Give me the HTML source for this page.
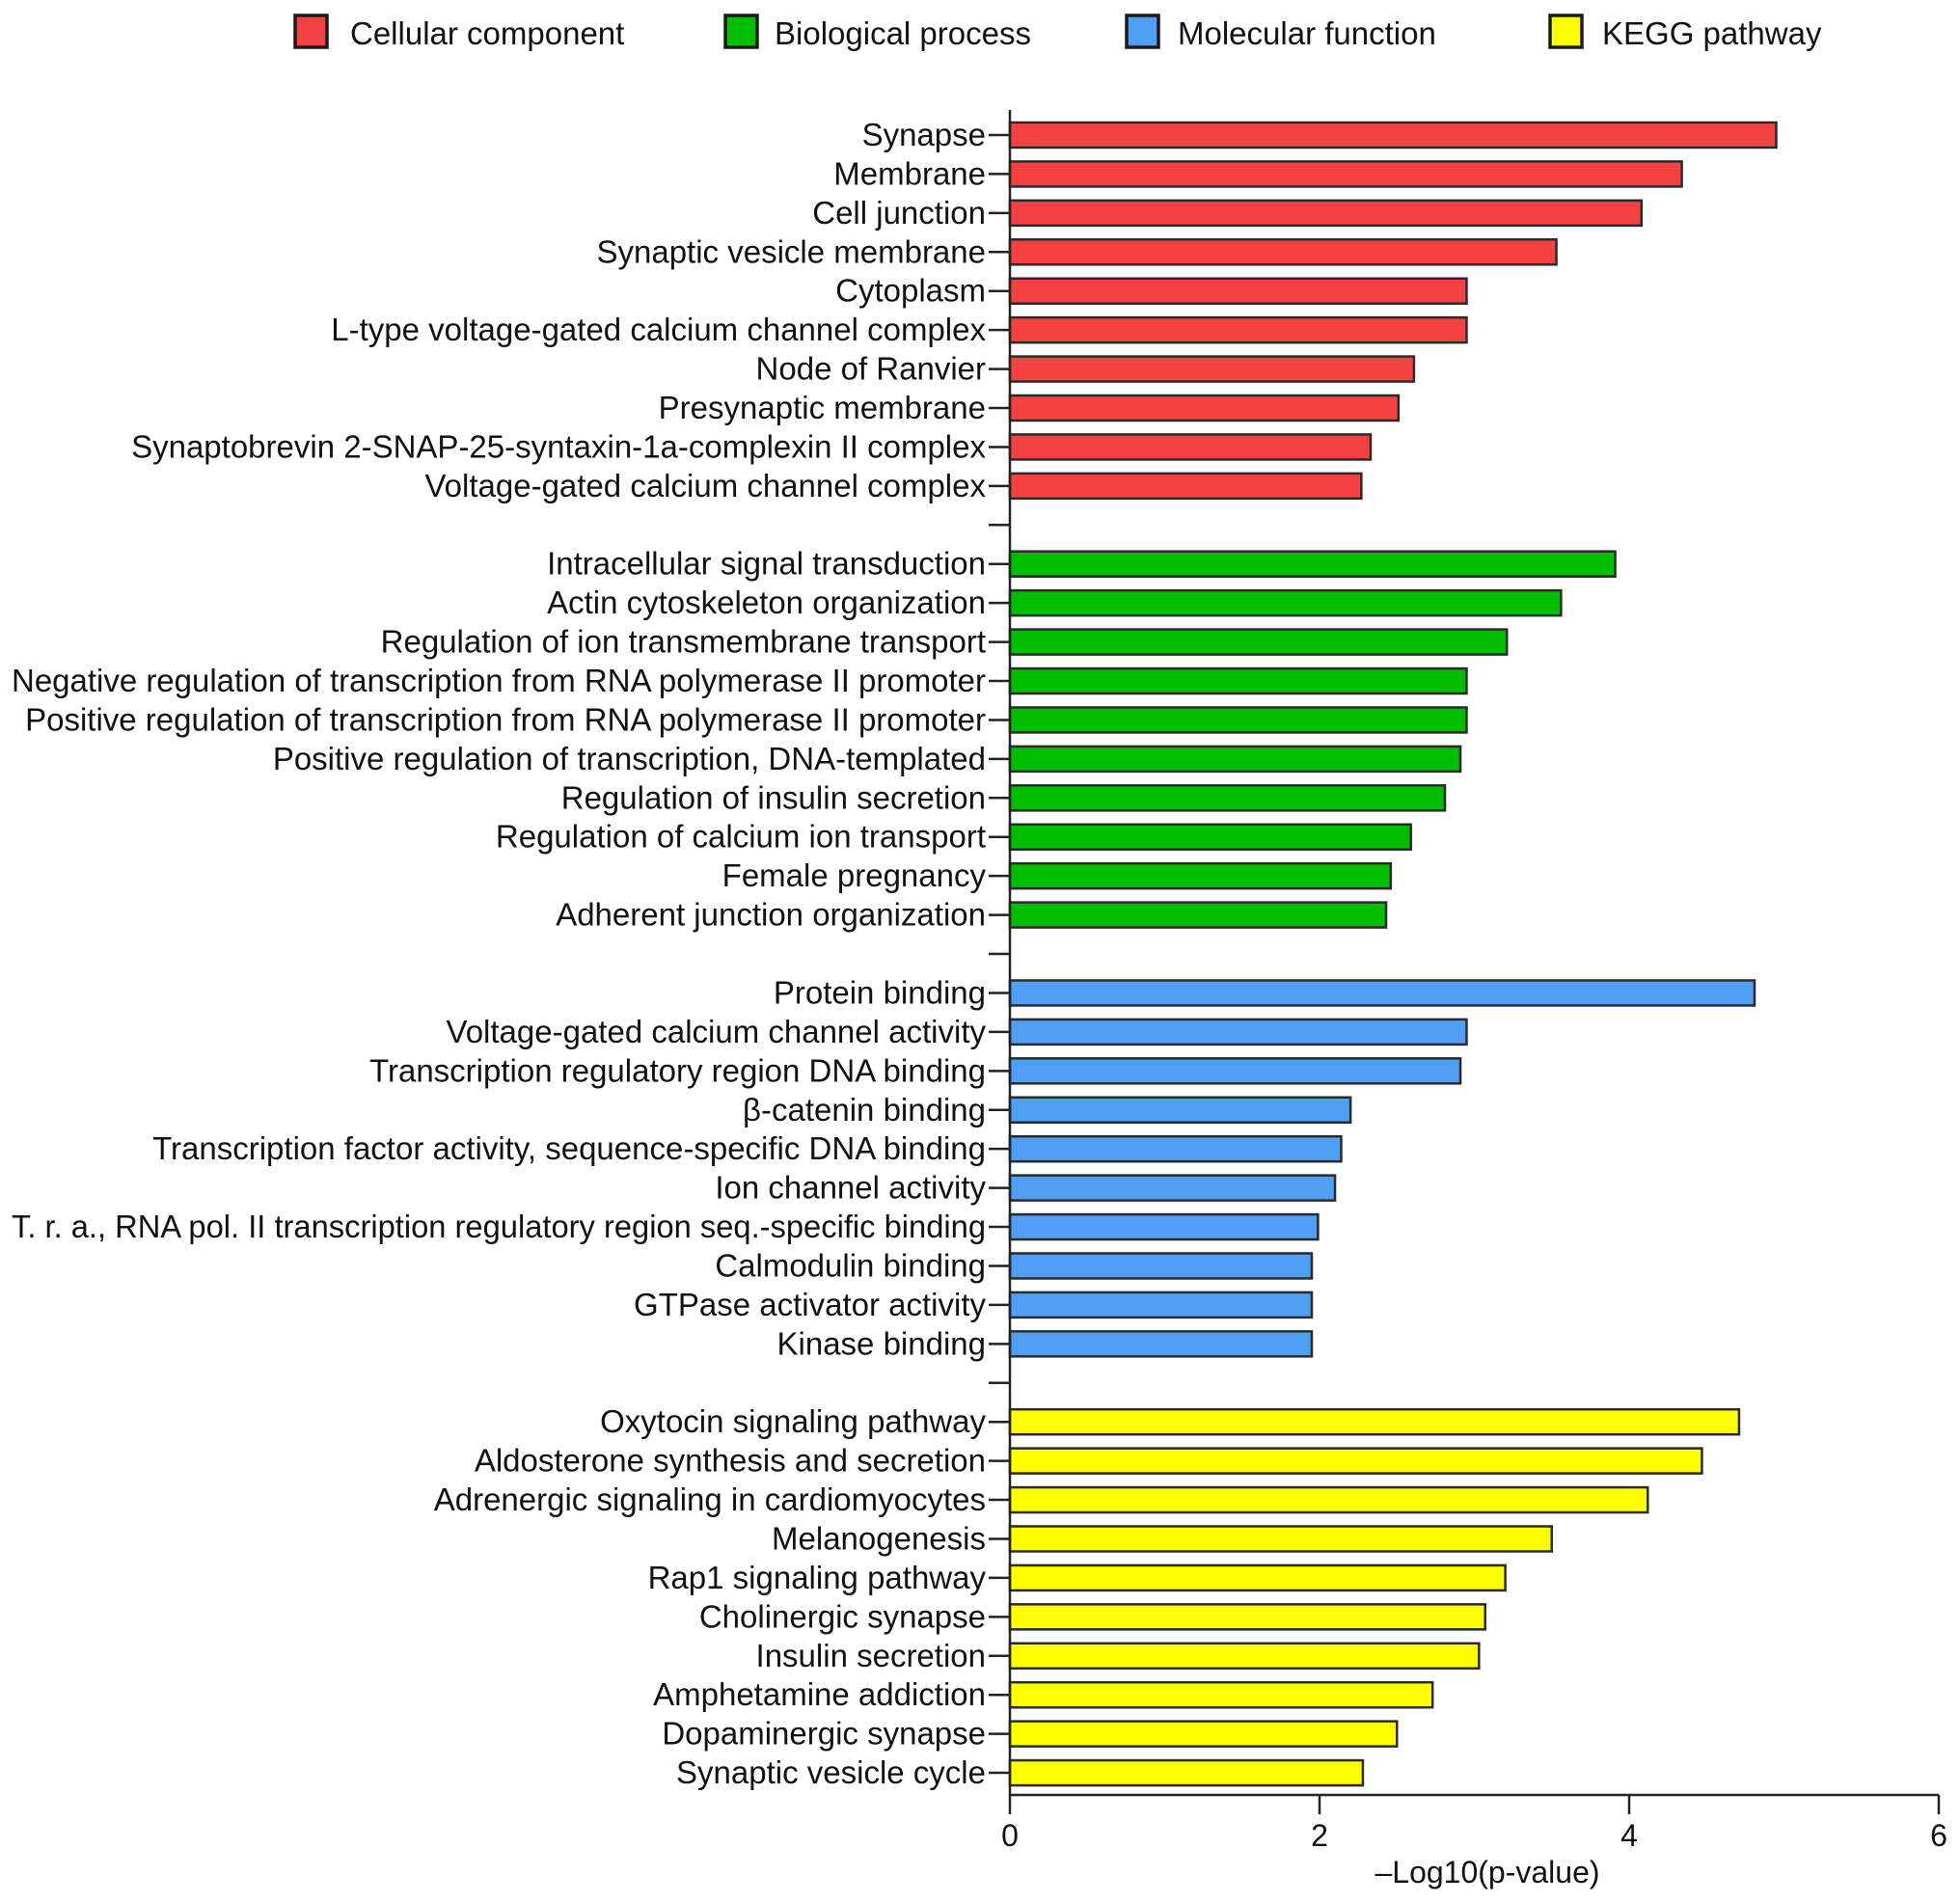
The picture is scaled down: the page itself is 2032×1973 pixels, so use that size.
<!DOCTYPE html>
<html><head><meta charset="utf-8"><style>
html,body{margin:0;padding:0;background:#fff;}
svg{display:block;font-family:"Liberation Sans",Arial,sans-serif;}
</style></head><body>
<svg id="chart" width="2032" height="1973" viewBox="0 0 2032 1973" xmlns="http://www.w3.org/2000/svg">
<g id="legend"></g>
<g id="bars"></g>
<g id="labels"></g>
<g id="axes"></g>
</svg>
<script>
const groupNames = ["Cellular component","Biological process","Molecular function","KEGG pathway"];
const groupColors = ["#f44242","#00bf00","#4f9ff4","#ffff00"];
const ccLabels = ["Synapse","Membrane","Cell junction","Synaptic vesicle membrane","Cytoplasm","L-type voltage-gated calcium channel complex","Node of Ranvier","Presynaptic membrane","Synaptobrevin 2-SNAP-25-syntaxin-1a-complexin II complex","Voltage-gated calcium channel complex"];
const ccValues = [4.95,4.34,4.08,3.53,2.95,2.95,2.61,2.51,2.33,2.27];
const bpLabels = ["Intracellular signal transduction","Actin cytoskeleton organization","Regulation of ion transmembrane transport","Negative regulation of transcription from RNA polymerase II promoter","Positive regulation of transcription from RNA polymerase II promoter","Positive regulation of transcription, DNA-templated","Regulation of insulin secretion","Regulation of calcium ion transport","Female pregnancy","Adherent junction organization"];
const bpValues = [3.91,3.56,3.21,2.95,2.95,2.91,2.81,2.59,2.46,2.43];
const mfLabels = ["Protein binding","Voltage-gated calcium channel activity","Transcription regulatory region DNA binding","β-catenin binding","Transcription factor activity, sequence-specific DNA binding","Ion channel activity","T. r. a., RNA pol. II transcription regulatory region seq.-specific binding","Calmodulin binding","GTPase activator activity","Kinase binding"];
const mfValues = [4.81,2.95,2.91,2.20,2.14,2.10,1.99,1.95,1.95,1.95];
const keggLabels = ["Oxytocin signaling pathway","Aldosterone synthesis and secretion","Adrenergic signaling in cardiomyocytes","Melanogenesis","Rap1 signaling pathway","Cholinergic synapse","Insulin secretion","Amphetamine addiction","Dopaminergic synapse","Synaptic vesicle cycle"];
const keggValues = [4.71,4.47,4.12,3.50,3.20,3.07,3.03,2.73,2.50,2.28];
const xTicks = [0,2,4,6];

const NS="http://www.w3.org/2000/svg";
const X0=1047, X1=2010, XMAX=6;
const xScale = v => X0 + v/XMAX*(X1-X0);
const Y0=140, STEP=40.43, BAR_H=26, AXIS_Y=1861, AXIS_TOP=114;
const yScale = slot => Y0 + slot*STEP;
function mk(tag, attrs, parent){const e=document.createElementNS(NS,tag);for(const k in attrs)e.setAttribute(k,attrs[k]);parent.appendChild(e);return e;}
const gBars=document.getElementById('bars'), gLab=document.getElementById('labels'), gAx=document.getElementById('axes'), gLeg=document.getElementById('legend');
const groups=[[ccLabels,ccValues],[bpLabels,bpValues],[mfLabels,mfValues],[keggLabels,keggValues]];
let slot=0;
groups.forEach((g,gi)=>{
  g[0].forEach((lab,i)=>{
    const y=yScale(slot);
    const r=mk('rect',{x:X0,y:y-BAR_H/2,width:xScale(g[1][i])-X0,height:BAR_H,fill:groupColors[gi],stroke:'#2a2a2a','stroke-width':2.5},gBars);
    
    
    const t=mk('line',{x1:X0-22,x2:X0,y1:y,y2:y,stroke:'#222','stroke-width':2.5},gAx);
    
    
    const tx=mk('text',{x:X0-25,y:y+11,'text-anchor':'end','font-size':33,fill:'#111'},gLab);
    tx.textContent=lab;
    
    
    const w=tx.getComputedTextLength(); const maxW=X0-25-12;
    if(w>maxW){tx.setAttribute('textLength',maxW);tx.setAttribute('lengthAdjust','spacingAndGlyphs');}
    slot++;
  });
  if(gi<groups.length-1){
    const y=yScale(slot);
    const t=mk('line',{x1:X0-22,x2:X0,y1:y,y2:y,stroke:'#222','stroke-width':2.5},gAx);
    
    
    slot++;
  }
});
const ya=mk('line',{x1:X0,x2:X0,y1:AXIS_TOP,y2:AXIS_Y,stroke:'#222','stroke-width':2.5},gAx);


const xa=mk('line',{x1:X0,x2:X1,y1:AXIS_Y,y2:AXIS_Y,stroke:'#222','stroke-width':2.5},gAx);


xTicks.forEach(v=>{
  const x=xScale(v);
  const t=mk('line',{x1:x,x2:x,y1:AXIS_Y,y2:AXIS_Y+20,stroke:'#222','stroke-width':2.5},gAx);
  
  
  const l=mk('text',{x:x,y:AXIS_Y+53,'text-anchor':'middle','font-size':32,fill:'#111'},gAx);
  l.textContent=String(v);
  
  
});
const title=mk('text',{x:1542,y:1952,'text-anchor':'middle','font-size':32,fill:'#111'},gAx);
title.textContent='\u2013Log10(p-value)';


const legBoxX=[306,752,1168,1607], legTextX=[363,803,1221,1661];
groupNames.forEach((n,i)=>{
  const b=mk('rect',{x:legBoxX[i],y:16,width:33,height:33,fill:groupColors[i],stroke:'#1a1a1a','stroke-width':3.5},gLeg);
  
  
  const t=mk('text',{x:legTextX[i],y:46,'font-size':33,fill:'#111'},gLeg);
  t.textContent=n;
  
  
});
</script>
</body></html>
